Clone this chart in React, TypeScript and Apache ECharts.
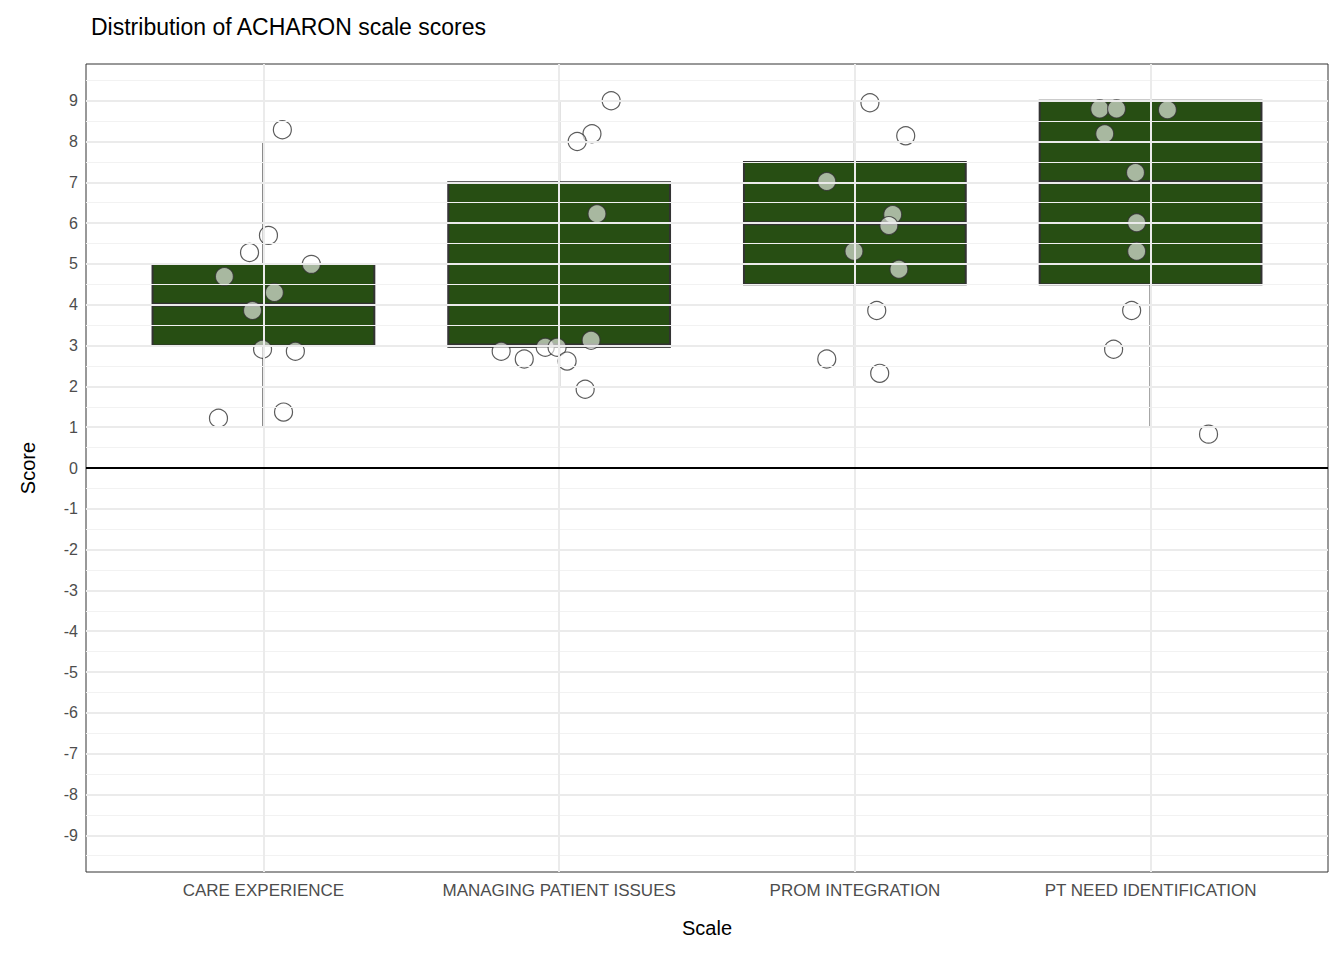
import React, { useEffect, useRef } from 'react';
import * as echarts from 'echarts';

const categories = ['CARE EXPERIENCE', 'MANAGING PATIENT ISSUES', 'PROM INTEGRATION', 'PT NEED IDENTIFICATION'];
// [index, whiskerLow, q1, median, q3, whiskerHigh]
const boxes = [
  [0, 1, 3, 4, 5, 8],
  [1, 2, 2.97, 3, 7, 9],
  [2, 2, 4.5, 6, 7.5, 9],
  [3, 1, 4.5, 7, 9, 9],
];
// jittered points: [position, score]
const points = [
  [0.064, 8.29], [0.017, 5.7], [-0.047, 5.28], [0.162, 4.99], [-0.132, 4.69], [0.037, 4.3],
  [-0.037, 3.86], [-0.003, 2.91], [0.108, 2.86], [-0.152, 1.22], [0.068, 1.37],
  [1.176, 9.0], [1.111, 8.19], [1.061, 8.0], [1.128, 6.23], [1.108, 3.13], [0.804, 2.86],
  [0.882, 2.67], [0.953, 2.96], [0.993, 2.96], [1.027, 2.62], [1.088, 1.93],
  [2.051, 8.95], [2.172, 8.14], [1.905, 7.02], [2.128, 6.21], [2.115, 5.94], [1.997, 5.31],
  [2.149, 4.87], [2.074, 3.86], [1.905, 2.67], [2.084, 2.32],
  [2.828, 8.8], [2.885, 8.8], [3.057, 8.78], [2.845, 8.19], [2.949, 7.24], [2.953, 6.01],
  [2.953, 5.31], [2.936, 3.86], [2.875, 2.91], [3.196, 0.83],
];
const yTicks = [-9, -8, -7, -6, -5, -4, -3, -2, -1, 0, 1, 2, 3, 4, 5, 6, 7, 8, 9];
const yMinor = yTicks.slice(0, -1).map((v) => v + 0.5).concat([-9.5, 9.5]);

const App: React.FC = () => {
  const chartRef = useRef<HTMLDivElement>(null);

  useEffect(() => {
    if (!chartRef.current) return;
    const chart = echarts.init(chartRef.current, undefined, { renderer: 'svg' });
    const boxWidth = 0.75;

    const option = {
      animation: false,
      backgroundColor: '#fff',
      title: {
        text: 'Distribution of ACHARON scale scores',
        left: 86, top: 10,
        textStyle: { fontFamily: 'Liberation Sans', fontWeight: 'normal', fontSize: 23, color: '#000' },
      },
      grid: { left: 86, right: 16, top: 64, bottom: 88, show: true, borderColor: '#333', borderWidth: 1, backgroundColor: 'transparent' },
      xAxis: {
        type: 'value', min: -0.6, max: 3.6,
        name: 'Scale', nameLocation: 'middle', nameGap: 46,
        nameTextStyle: { fontFamily: 'Liberation Sans', fontSize: 20, color: '#000' },
        axisLine: { show: false },
        axisTick: { show: true, customValues: [0, 1, 2, 3], length: 5, lineStyle: { color: '#333' } },
        axisLabel: {
          customValues: [0, 1, 2, 3], margin: 10,
          formatter: (v: number) => categories[Math.round(v)] ?? '',
          fontFamily: 'Liberation Sans', fontSize: 17, color: '#4d4d4d',
        },
        splitLine: { show: false },
      },
      yAxis: {
        type: 'value', min: -9.9, max: 9.9,
        name: 'Score', nameLocation: 'middle', nameGap: 48,
        nameTextStyle: { fontFamily: 'Liberation Sans', fontSize: 20, color: '#000' },
        axisLine: { show: false },
        axisTick: { show: true, customValues: yTicks, length: 5, lineStyle: { color: '#333' } },
        axisLabel: { customValues: yTicks, margin: 8, fontFamily: 'Liberation Sans', fontSize: 16, color: '#4d4d4d' },
        splitLine: { show: false },
      },
      series: [
        {
          type: 'line', data: [], silent: true,
          markLine: {
            symbol: 'none', silent: true, label: { show: false },
            data: [
              ...yMinor.map((v) => ({ yAxis: v, lineStyle: { color: '#f2f2f2', width: 1, type: 'solid' } })),
              ...yTicks.map((v) => ({ yAxis: v, lineStyle: { color: '#ebebeb', width: 2, type: 'solid' } })),
              ...[0, 1, 2, 3].map((v) => ({ xAxis: v, lineStyle: { color: '#ebebeb', width: 2, type: 'solid' } })),
              { yAxis: 0, lineStyle: { color: '#000', width: 2, type: 'solid' } },
            ],
          },
        },
        {
          type: 'custom',
          data: boxes,
          renderItem: (params: any, api: any) => {
            const x = api.value(0);
            const lo = api.coord([x, api.value(1)]);
            const q1 = api.coord([x - boxWidth / 2, api.value(2)]);
            const med = api.coord([x, api.value(3)]);
            const q3 = api.coord([x + boxWidth / 2, api.value(4)]);
            const hi = api.coord([x, api.value(5)]);
            const stroke = { stroke: '#333', lineWidth: 2 };
            return {
              type: 'group',
              children: [
                { type: 'line', shape: { x1: lo[0], y1: lo[1], x2: lo[0], y2: q1[1] }, style: stroke },
                { type: 'line', shape: { x1: hi[0], y1: q3[1], x2: hi[0], y2: hi[1] }, style: stroke },
                { type: 'rect', shape: { x: q1[0], y: q3[1], width: q3[0] - q1[0], height: q1[1] - q3[1] }, style: { fill: '#274e13', stroke: '#333', lineWidth: 2 } },
                { type: 'line', shape: { x1: q1[0], y1: med[1], x2: q3[0], y2: med[1] }, style: { stroke: '#333', lineWidth: 4 } },
              ],
            };
          },
        },
        {
          type: 'scatter',
          data: points,
          symbolSize: 18,
          itemStyle: { color: 'rgba(255,255,255,0.75)', borderColor: '#333', borderWidth: 1.2 },
        },
      ],
    };
    chart.setOption(option);
    return () => chart.dispose();
  }, []);

  return <div ref={chartRef} style={{ position: 'fixed', left: 0, top: 0, width: 1344, height: 960 }} />;
};

export default App;
